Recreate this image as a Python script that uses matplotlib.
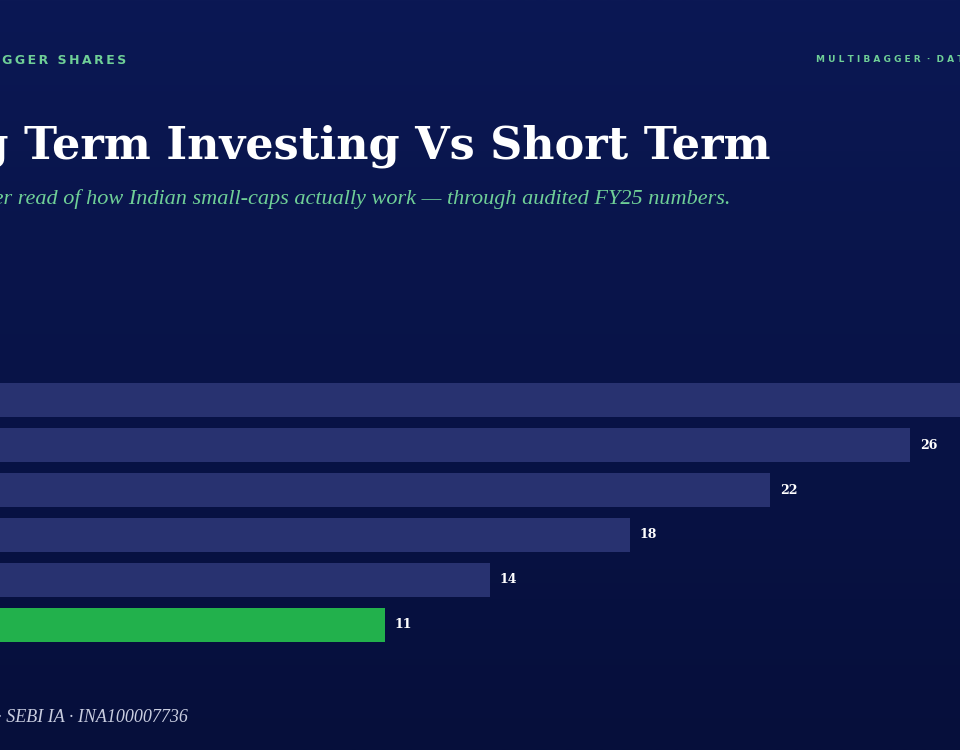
import matplotlib
matplotlib.use("Agg")
import matplotlib.pyplot as plt
import numpy as np
from matplotlib.colors import LinearSegmentedColormap

categories = ["A", "B", "C", "D", "E", "F"]
values = [30, 26, 22, 18, 14, 11]
colors = ["#283270", "#283270", "#283270", "#283270", "#283270", "#22b14c"]
value_labels = ["30", "26", "22", "18", "14", "11"]

W, H = 960, 750
fig = plt.figure(figsize=(W/100, H/100), dpi=100)

bg = fig.add_axes([0, 0, 1, 1])
grad = np.linspace(0, 1, 256).reshape(-1, 1)
cm = LinearSegmentedColormap.from_list("bg", ["#0b1854", "#060f3b"])
bg.imshow(grad, aspect="auto", cmap=cm, extent=[0, 1, 0, 1], origin="upper")
bg.set_xlim(0, 1); bg.set_ylim(0, 1); bg.axis("off")

top_px, bot_px = 383, 642
ax = fig.add_axes([0, 1 - bot_px/H, 1, (bot_px - top_px)/H])
ax.patch.set_alpha(0)
y = np.arange(len(values))
ax.barh(y, values, height=0.76, color=colors)
ax.set_ylim(len(values) - 0.5 - 0.12, -0.5 + 0.12)
ax.set_xlim(0, W/35)
for yi, v, lab in zip(y, values, value_labels):
    ax.text(v + 0.28, yi, lab, color="white", fontsize=9, fontweight="bold",
            family="DejaVu Serif", va="center", ha="left", clip_on=True)
ax.axis("off")

def px(x, yy):
    return x / W, 1 - yy / H

def spaced(s, sep="\u2009"):
    return sep.join(s)

fig.text(*px(126, 61), spaced("MULTIBAGGER SHARES"), color="#6fcf97", fontsize=9,
         fontweight="bold", family="DejaVu Sans", ha="right", va="center")
fig.text(*px(816, 60), " ".join("MULTIBAGGER") + "  ·  " + " ".join("DATA"), color="#6fcf97", fontsize=6.5,
         fontweight="bold", family="DejaVu Sans", ha="left", va="center")
fig.text(*px(770, 146), "Long Term Investing Vs Short Term", color="white", fontsize=32,
         fontweight="bold", family="DejaVu Serif", ha="right", va="center")
fig.text(*px(731, 199), "A clearer read of how Indian small-caps actually work — through audited FY25 numbers.",
         color="#6fcf97", fontsize=16, style="italic", family="Liberation Serif", ha="right", va="center")
fig.text(*px(188, 717), "Source: Multibagger Shares · SEBI IA · INA100007736", color="#c9cde0",
         fontsize=13, style="italic", family="Liberation Serif", ha="right", va="center")

fig.savefig("out.png", dpi=100)
